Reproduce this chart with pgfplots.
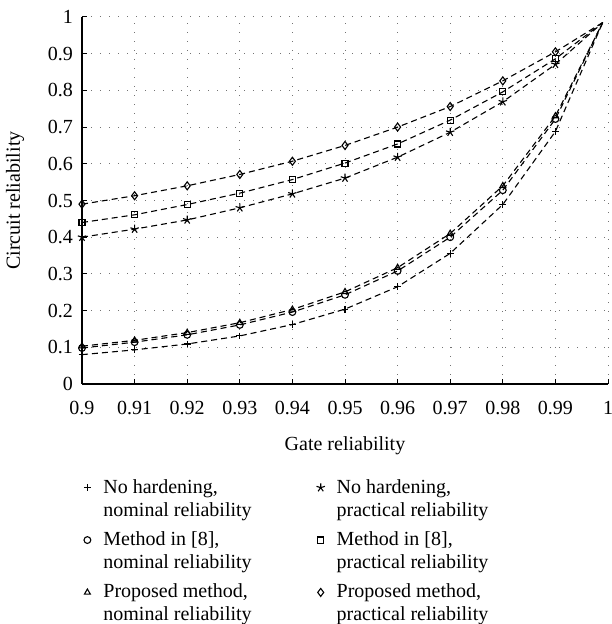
\documentclass[border=0pt]{standalone}
\usepackage{pgfplots}
\pgfplotsset{compat=1.18}
\usepackage{fontspec}
\setmainfont{Liberation Serif}

% gate reliability vs circuit reliability, last point (0.999) carries no mark
\pgfplotstableread{
x      plus   circ   tri    star   sq     diam
0.90   0.080  0.098  0.103  0.400  0.440  0.490
0.91   0.093  0.114  0.119  0.422  0.461  0.513
0.92   0.109  0.134  0.140  0.447  0.489  0.540
0.93   0.131  0.161  0.167  0.480  0.520  0.571
0.94   0.162  0.196  0.203  0.518  0.557  0.607
0.95   0.204  0.243  0.251  0.561  0.602  0.650
0.96   0.265  0.308  0.317  0.618  0.654  0.700
0.97   0.356  0.400  0.410  0.686  0.719  0.756
0.98   0.489  0.528  0.540  0.769  0.796  0.826
0.99   0.688  0.722  0.730  0.871  0.886  0.905
0.999  0.985  0.985  0.985  0.985  0.985  0.985
}\datatab

\begin{document}
\fontsize{10}{11}\selectfont
\begin{tikzpicture}
\begin{axis}[
  name=ax,
  scale only axis, width=263pt, height=183.5pt,
  xmin=0.9, xmax=1, ymin=0, ymax=1,
  axis x line*=bottom, axis y line*=left,
  axis line style={black, line width=0.6pt},
  xtick={0.9,0.91,0.92,0.93,0.94,0.95,0.96,0.97,0.98,0.99,1},
  ytick={0,0.1,0.2,0.3,0.4,0.5,0.6,0.7,0.8,0.9,1},
  /pgf/number format/fixed, /pgf/number format/precision=2,
  /pgf/number format/assume math mode=true,
  tick align=inside, major tick length=2.5pt,
  tick style={black, line width=0.5pt},
  xticklabel shift=5pt, yticklabel shift=1pt,
  xlabel shift=4pt, ylabel shift=5pt,
  grid=major,
  grid style={black!55, line width=0.5pt, dash pattern=on 0.5pt off 4pt},
  xlabel={Gate reliability}, ylabel={Circuit reliability},
  every axis plot/.append style={black, line width=0.55pt, dash pattern=on 3pt off 2pt,
    mark options={solid, fill=black}, mark size=1.7pt, mark indices={1,...,10}},
  legend columns=2,
  legend style={draw=none, fill=none, inner sep=0pt, at={(0,-0.2475)}, anchor=north west,
    cells={align=left, anchor=west}, row sep=2.25pt,
    /tikz/every even column/.append style={column sep=30pt},
    font=\fontsize{10}{11.5}\selectfont},
  legend image code/.code={\path[draw=none, fill=none] (0pt,-7pt) (8.5pt,7pt);
    \draw[#1] plot coordinates {(2.5pt,5.75pt)};},
]
\addplot[mark=+] table[x=x, y=plus] {\datatab};
\addplot[mark=star, mark size=2.2pt] table[x=x, y=star] {\datatab};
\addplot[mark=o, mark options={solid, fill=white}] table[x=x, y=circ] {\datatab};
\addplot[mark=square, mark size=1.5pt, mark options={solid, fill=white}] table[x=x, y=sq] {\datatab};
\addplot[mark=triangle, mark options={solid, fill=none}] table[x=x, y=tri] {\datatab};
\addplot[mark=diamond, mark size=2pt, mark options={solid, fill=white}] table[x=x, y=diam] {\datatab};
\legend{}
\addlegendimage{black, solid, only marks, mark=+, mark size=1.5pt}
\addlegendentry{No hardening,\\nominal reliability}
\addlegendimage{black, solid, only marks, mark=star, mark size=1.8pt, fill=black}
\addlegendentry{No hardening,\\practical reliability}
\addlegendimage{black, solid, only marks, mark=o, mark size=1.5pt}
\addlegendentry{Method in [8],\\nominal reliability}
\addlegendimage{black, solid, only marks, mark=square, mark size=1.3pt}
\addlegendentry{Method in [8],\\practical reliability}
\addlegendimage{black, solid, only marks, mark=triangle, mark size=1.7pt}
\addlegendentry{Proposed method,\\nominal reliability}
\addlegendimage{black, solid, only marks, mark=diamond, mark size=1.8pt}
\addlegendentry{Proposed method,\\practical reliability}
\end{axis}
\pgfresetboundingbox
\path ([xshift=-41pt, yshift=-120pt]ax.south west) rectangle ([xshift=1.5pt, yshift=8.5pt]ax.north east);
\end{tikzpicture}
\end{document}
